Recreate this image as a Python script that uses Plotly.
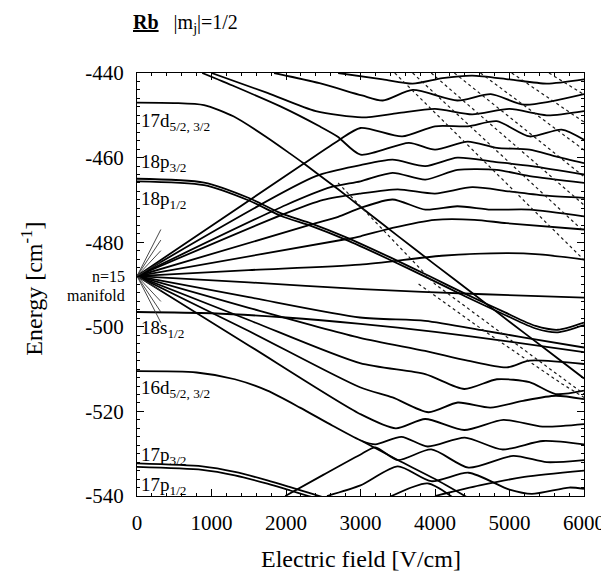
import plotly.graph_objects as go

# ---------------- data (x: V/cm, y: cm^-1) ----------------
# low-l states
state_17d = [(0, -447.0), (500, -447.1), (900, -447.6), (1300, -450.3), (1750, -455.3), (2050, -459.0),
             (2240, -461.4), (2700, -467.5), (3019, -471.9), (3500, -478.5), (4000, -485.3),
             (4500, -492.0), (5000, -498.8), (5500, -505.5), (6000, -512.2)]
state_18p_a = [(0, -465.0), (900, -465.9), (1510, -469.6), (1935, -473.2), (2343, -475.6), (2800, -478.8),
               (3400, -483.6), (3922, -488.0), (4430, -492.4), (4940, -496.6), (5350, -499.8),
               (5650, -500.7), (6000, -499.0)]
state_18p_b = [(0, -465.6), (900, -466.5), (1510, -470.2), (1935, -473.8), (2343, -476.2), (2800, -479.4),
               (3400, -484.2), (3922, -488.6), (4430, -493.0), (4940, -497.2), (5350, -500.4),
               (5650, -501.3), (6000, -499.6)]
state_18s = [(0, -496.5), (1000, -496.8), (2000, -497.8), (3000, -499.3), (4000, -501.2), (5000, -503.5),
             (6000, -506.0)]
state_16d = [(0, -510.5), (800, -510.8), (1313, -512.4), (1750, -515.1), (2188, -519.1), (2626, -523.4),
             (3019, -527.0), (3200, -527.8), (3550, -526.0), (3900, -528.3), (4400, -526.2), (4900, -529.0),
             (5450, -527.0), (6000, -527.8)]
state_16d_cross = [(3019, -527.0), (3500, -531.5), (4000, -536.0), (4450, -540.5)]
state_17p_a = [(0, -532.3), (875, -533.0), (1313, -534.3), (1750, -536.3), (2057, -537.9), (2300, -539.2),
               (2500, -540.3)]
state_17p_b = [(0, -533.1), (875, -533.8), (1313, -535.1), (1750, -537.1), (2057, -538.7), (2300, -540.0),
               (2400, -540.5)]

# n=15 manifold, blue-shifted branches (continuing as wavy curves at high field)
fan_up_1 = [(0, -488.0), (2240, -461.4), (2700, -456.0), (3000, -453.0), (3560, -455.0), (4000, -452.6),
            (4440, -452.6), (4830, -451.4), (5270, -455.0), (5700, -453.4), (6000, -455.8)]
fan_up_2 = [(0, -488.0), (2400, -464.4), (3000, -461.8), (3430, -460.5), (3870, -462.0), (4300, -460.0),
            (4800, -461.0), (5300, -462.0), (6000, -464.0)]
fan_up_3 = [(0, -488.0), (2000, -471.2), (2600, -467.0), (3000, -465.6), (3430, -463.6), (3870, -465.2),
            (4300, -462.9), (4830, -462.9), (5270, -464.4), (6000, -466.0)]
fan_up_4 = [(0, -488.0), (1935, -473.6), (2500, -470.0), (3000, -468.5), (3500, -467.5), (4000, -468.5),
            (4500, -467.0), (5000, -468.0), (5500, -469.0), (6000, -469.5)]
fan_up_5 = [(0, -488.0), (2343, -475.8), (2700, -474.0), (3000, -471.9), (3430, -469.9), (3870, -472.3),
            (4300, -471.5), (4750, -472.3), (5270, -472.3), (6000, -473.9)]
fan_up_6 = [(0, -488.0), (2800, -479.3), (3000, -478.6), (3430, -476.6), (4000, -474.7), (4530, -474.7),
            (4960, -475.5), (6000, -477.0)]
fan_up_7 = [(0, -488.0), (1500, -486.6), (2993, -485.3), (4087, -483.2), (4962, -482.6), (5400, -482.9),
            (6000, -484.1)]
# n=15 manifold, red-shifted branches
fan_dn_1 = [(0, -488.0), (1500, -489.5), (3019, -491.1), (4656, -492.3), (6000, -493.1)]
fan_dn_2 = [(0, -488.0), (1500, -493.0), (2993, -497.8), (3868, -498.6), (4656, -500.9), (5181, -502.5), (6000, -504.9)]
fan_dn_3 = [(0, -488.0), (1500, -495.5), (2993, -502.6), (3868, -505.7), (4437, -508.0), (4962, -509.6),
            (5268, -508.0), (6000, -508.8)]
fan_dn_4 = [(0, -488.0), (1500, -498.4), (2993, -508.6), (3868, -511.2), (4393, -514.7), (4831, -512.4),
            (5268, -513.1), (5619, -515.9), (6000, -515.1)]
fan_dn_5 = [(0, -488.0), (1500, -501.0), (2993, -514.3), (3431, -516.7), (3912, -520.2), (4306, -517.9),
            (4743, -519.1), (5181, -517.5), (5619, -516.3), (6000, -517.1)]
fan_dn_6 = [(0, -488.0), (1500, -504.4), (2993, -520.6), (3474, -524.0), (3868, -521.8), (4393, -524.4),
            (4918, -522.0), (5443, -523.6), (6000, -523.0)]
# short segments of the dense n=15 fan near zero field
fan_origin_ends = [-484.6, -482.0, -479.5, -477.0, -491.5, -494.0, -496.5, -499.0]
fan_origin_x = 320

# n=14 manifold, blue-shifted branches rising from the bottom
low_up_1 = [(1990, -540.0), (2500, -535.0), (3019, -530.0), (3200, -528.5), (3500, -531.5), (3950, -529.0),
            (4450, -533.3), (5050, -530.5), (5500, -532.0), (6000, -531.5)]
low_up_2 = [(2550, -540.0), (3000, -537.5), (3500, -533.0), (3950, -536.5), (4450, -534.5), (5000, -538.5),
            (5300, -539.5), (5800, -538.0), (6000, -538.3)]
low_up_3 = [(3300, -541.0), (3900, -537.0), (4250, -540.5)]
low_up_4 = [(4000, -540.0), (4600, -537.5), (5200, -535.5), (6000, -534.0)]

# n=16 manifold, red-shifted branches entering from the top (wavy at high field)
high_dn_1 = [(875, -440.0), (1313, -443.2), (1925, -447.9), (2450, -452.6), (2690, -455.0), (3000, -459.3),
             (3650, -456.5), (4000, -458.1), (4440, -456.2), (4830, -457.7), (5270, -458.1), (5620, -459.7),
             (6000, -461.3)]
high_dn_2 = [(1000, -440.0), (1750, -444.7), (2400, -449.0), (3019, -450.5), (3500, -449.5), (4000, -448.5),
             (4500, -449.8), (5000, -448.5), (5500, -450.0), (6000, -449.0)]
high_dn_3 = [(1840, -440.0), (2450, -442.4), (3019, -445.3), (3300, -446.5), (3700, -444.0), (4300, -446.5),
             (4750, -445.0), (5200, -447.5), (6000, -445.0)]
high_dn_4 = [(2700, -440.0), (3300, -441.5), (3700, -442.5), (4100, -441.2), (4500, -440.6), (5000, -441.5),
             (5500, -442.5), (6000, -441.5)]

# n=17 manifold, steep red-shifted branches (thin lines)
steep_1 = [(3460, -440.0), (6000, -484.2)]
steep_2 = [(3700, -440.0), (6000, -477.5)]
steep_3 = [(3950, -440.0), (6000, -471.2)]
steep_4 = [(4260, -440.0), (6000, -464.5)]
steep_5 = [(4610, -440.0), (6000, -458.2)]
steep_6 = [(5030, -440.0), (6000, -451.6)]
steep_7 = [(5530, -440.0), (6000, -445.1)]
steep_8 = [(3780, -489.9), (4656, -500.9), (5706, -513.5), (6000, -516.7)]
steep_9 = [(2700, -466.0), (4000, -489.9), (6000, -515.9)]

x_ticks = [0, 1000, 2000, 3000, 4000, 5000, 6000]
y_ticks = [-540, -520, -500, -480, -460, -440]

# ---------------- figure ----------------
thick = [state_17d, state_18p_a, state_18p_b, state_18s, state_16d, state_16d_cross, state_17p_a, state_17p_b,
         fan_up_1, fan_up_2, fan_up_3, fan_up_4, fan_up_5, fan_up_6, fan_up_7,
         fan_dn_1, fan_dn_2, fan_dn_3, fan_dn_4, fan_dn_5, fan_dn_6,
         low_up_1, low_up_2, low_up_3, low_up_4,
         high_dn_1, high_dn_2, high_dn_3, high_dn_4]
thin = [steep_1, steep_2, steep_3, steep_4, steep_5, steep_6, steep_7, steep_8, steep_9]

fig = go.Figure()
for pts in thick:
    fig.add_trace(go.Scatter(x=[p[0] for p in pts], y=[p[1] for p in pts], mode="lines",
                             line=dict(color="black", width=1.8, shape="spline", smoothing=0.7),
                             hoverinfo="skip", showlegend=False))
for pts in thin:
    fig.add_trace(go.Scatter(x=[p[0] for p in pts], y=[p[1] for p in pts], mode="lines",
                             line=dict(color="#1a1a1a", width=1.2, dash="dot"),
                             hoverinfo="skip", showlegend=False))
for yend in fan_origin_ends:
    fig.add_trace(go.Scatter(x=[0, fan_origin_x], y=[-488.0, yend], mode="lines",
                             line=dict(color="#333333", width=0.9),
                             hoverinfo="skip", showlegend=False))

serif = "Liberation Serif"
axis_common = dict(showline=True, linecolor="black", linewidth=1.3, mirror="ticks",
                   ticks="inside", tickcolor="black", ticklen=7, tickwidth=1,
                   showgrid=False, zeroline=False,
                   tickfont=dict(family=serif, size=21, color="black"))
fig.update_xaxes(range=[0, 6000], tickvals=x_ticks, ticktext=[str(v) for v in x_ticks],
                 minor=dict(ticks="inside", dtick=200, ticklen=3, tickcolor="black"),
                 ticklabelstandoff=8, **axis_common)
fig.update_yaxes(range=[-540, -440], tickvals=y_ticks, ticktext=[str(v) for v in y_ticks],
                 minor=dict(ticks="inside", dtick=2, ticklen=3, tickcolor="black"),
                 ticklabelstandoff=8, **axis_common)

ann = []
def label(y, text, size=19):
    ann.append(dict(x=25, y=y, xref="x", yref="y", text=text, showarrow=False, xanchor="left",
                    yanchor="middle", font=dict(family=serif, size=size, color="black")))
label(-451.5, "17d<sub>5/2, 3/2</sub>")
label(-461.3, "18p<sub>3/2</sub>")
label(-470.0, "18p<sub>1/2</sub>")
label(-500.5, "18s<sub>1/2</sub>")
label(-514.8, "16d<sub>5/2, 3/2</sub>")
label(-530.5, "17p<sub>3/2</sub>")
label(-537.6, "17p<sub>1/2</sub>")

ann.append(dict(x=-0.022, y=0.518, xref="paper", yref="paper", text="n=15", showarrow=False,
                xanchor="right", yanchor="middle", font=dict(family=serif, size=16, color="black")))
ann.append(dict(x=-0.022, y=0.475, xref="paper", yref="paper", text="manifold", showarrow=False,
                xanchor="right", yanchor="middle", font=dict(family=serif, size=16, color="black")))
# axis titles
ann.append(dict(x=0.5, y=-0.148, xref="paper", yref="paper", text="Electric field [V/cm]", showarrow=False,
                xanchor="center", yanchor="middle", font=dict(family=serif, size=24, color="black")))
ann.append(dict(x=-0.235, y=0.49, xref="paper", yref="paper", text="Energy [cm<sup>-1</sup>]", showarrow=False,
                textangle=-90, xanchor="center", yanchor="middle", font=dict(family=serif, size=24, color="black")))
# chart title
ann.append(dict(x=-0.014, y=1.118, xref="paper", yref="paper",
                text="<b><u>Rb</u></b>   |m<sub>j</sub>|=1/2", showarrow=False,
                xanchor="left", yanchor="middle", font=dict(family=serif, size=20, color="black")))

fig.update_layout(width=609, height=572, margin=dict(l=129, r=23, t=65, b=84),
                  paper_bgcolor="white", plot_bgcolor="white", annotations=ann, showlegend=False)
fig.write_html("out.html")
